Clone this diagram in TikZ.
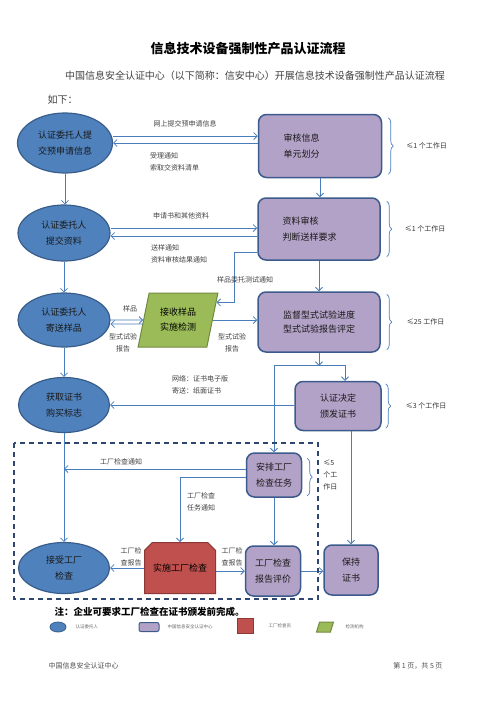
\documentclass[tikz,border=0pt]{standalone}
\usepackage{fontspec}
\setmainfont{Noto Sans CJK SC}
\usetikzlibrary{shapes.geometric, shapes.misc, arrows.meta, positioning, calc, decorations.pathreplacing}

\definecolor{clientblue}{HTML}{4F81BD}
\definecolor{clientedge}{HTML}{385D8A}
\definecolor{centerpurple}{HTML}{B3A2C7}
\definecolor{centeredge}{HTML}{3C5A8C}
\definecolor{labgreen}{HTML}{9BBB59}
\definecolor{labedge}{HTML}{71893F}
\definecolor{inspred}{HTML}{C0504D}
\definecolor{inspedge}{HTML}{8C3836}
\definecolor{flowline}{HTML}{4A7EBB}
\definecolor{framenavy}{HTML}{2E4670}

\begin{document}
\begin{tikzpicture}[x=1pt, y=-1pt,
    client/.style={ellipse, draw=clientedge, line width=1.2pt, fill=clientblue, text=black!90, inner sep=0pt, align=center, font=\fontsize{9}{16}\selectfont},
    certbox/.style={rectangle, rounded corners=8pt, draw=centeredge, line width=1.5pt, fill=centerpurple, text=black!90, inner sep=0pt, align=center, font=\fontsize{9}{16}\selectfont},
    labbox/.style={trapezium, trapezium left angle=74, trapezium right angle=106, trapezium stretches=true, draw=labedge, line width=1pt, fill=labgreen, inner sep=1pt, align=center, font=\fontsize{9}{15}\selectfont},
    inspbox/.style={chamfered rectangle, chamfered rectangle corners={north west, north east}, chamfered rectangle xsep=8pt, draw=inspedge, line width=1pt, fill=inspred, inner sep=0pt, align=center, font=\fontsize{9}{15}\selectfont},
    arrow/.style={-{Straight Barb[length=3.5pt, width=7pt]}, draw=flowline, line width=0.8pt},
    flow/.style={draw=flowline, line width=0.8pt},
    note/.style={font=\fontsize{7}{12}\selectfont, text=black!75, align=center, inner sep=0pt},
    span/.style={decorate, decoration={brace, amplitude=5pt}, draw=flowline, line width=0.7pt},
    days/.style={font=\fontsize{7}{12}\selectfont, text=black!80, anchor=west, align=left, inner sep=0pt},
    dashframe/.style={draw=framenavy, line width=1.4pt, dash pattern=on 5pt off 4pt},
    legtext/.style={font=\fontsize{4.5}{5}\selectfont, text=black!60, inner sep=0pt}
]
\useasboundingbox (0,0) rectangle (496,702);

% Title
\node[font=\bfseries\fontsize{13}{13}\selectfont] (title) at (248,49) {信息技术设备强制性产品认证流程};
\node[font=\fontsize{10}{10}\selectfont, text=black!75] (intro) at (255,76) {中国信息安全认证中心（以下简称：信安中心）开展信息技术设备强制性产品认证流程};
\node[font=\fontsize{10}{10}\selectfont, text=black!75, anchor=west] (intro2) at (44,100) {如下：};

% Nodes
\node[client, minimum width=95pt, minimum height=60pt] (apply) at (65,143) {认证委托人提\\交预申请信息};
\node[certbox, minimum width=123pt, minimum height=63pt, text width=73pt, align=left] (prelim) at (320,146) {审核信息\\单元划分};
\node[client, minimum width=92pt, minimum height=56pt] (submit) at (64,233) {认证委托人\\提交资料};
\node[certbox, minimum width=122pt, minimum height=62pt, text width=73pt, align=left] (docreview) at (319,229) {资料审核\\判断送样要求};
\node[client, minimum width=92pt, minimum height=54pt] (sendsample) at (64,320) {认证委托人\\寄送样品};
\node[labbox, minimum width=80pt, minimum height=54pt] (lab) at (178,320) {接收样品\\实施检测};
\node[certbox, minimum width=122pt, minimum height=60pt, font=\fontsize{9}{14}\selectfont] (monitor) at (319,322) {监督型式试验进度\\型式试验报告评定};
\node[client, minimum width=91pt, minimum height=55pt] (getcert) at (64,405) {获取证书\\购买标志};
\node[certbox, minimum width=86pt, minimum height=49pt] (decide) at (338,406) {认证决定\\颁发证书};
\node[certbox, minimum width=55pt, minimum height=44pt] (arrange) at (274,475) {安排工厂\\检查任务};
\node[client, minimum width=91pt, minimum height=51pt] (accept) at (64,568) {接受工厂\\检查};
\node[inspbox, minimum width=71pt, minimum height=51pt] (inspect) at (180,568) {实施工厂检查};
\node[certbox, minimum width=55pt, minimum height=50pt] (evaluate) at (273,571) {工厂检查\\报告评价};
\node[certbox, minimum width=54pt, minimum height=50pt] (keep) at (351,570) {保持\\证书};

% Arrows
\draw[arrow] ([yshift=7pt]apply.east) -- ([yshift=7pt]prelim.west |- apply.east);
\draw[arrow] (prelim.west |- apply.east) -- (apply.east);
\draw[arrow] (apply.south) -- (apply.south |- submit.north);
\draw[arrow] (prelim.south) -- (prelim.south |- docreview.north);
\draw[arrow] ([yshift=5pt]submit.east) -- ([yshift=5pt]docreview.west |- submit.east);
\draw[arrow] ([yshift=-3pt]docreview.west |- submit.east) -- ([yshift=-3pt]submit.east);
\draw[arrow] (submit.south) -- (submit.south |- sendsample.north);
\draw[arrow] (docreview.south) -- (docreview.south |- monitor.north);
\draw[arrow] ([yshift=-23pt]docreview.west) -- ++(-23,0) |- ($(lab.top right corner)!0.18!(lab.bottom right corner)$);
\draw[arrow] (sendsample.east) -- (lab.west);
\draw[arrow] ([yshift=-4pt]lab.west) -- ([yshift=-4pt]sendsample.east);
\draw[arrow] (lab.east) -- (lab.east -| monitor.west);
\draw[arrow] (sendsample.south) -- (sendsample.south |- getcert.north);
\coordinate (split) at ($(monitor.south)+(0,13)$);
\draw[arrow] (monitor.south) -- (split);
\draw[arrow] (split) -| ([xshift=7pt]decide.north);
\draw[arrow] (split) -| (arrange.north);
\draw[arrow] (decide.west |- getcert.east) -- (getcert.east);
\draw[arrow] (getcert.south) -- (getcert.south |- accept.north);
\draw[arrow] ([yshift=6pt]arrange.west) -- ([yshift=6pt]arrange.west -| getcert.south);
\draw[arrow] ([yshift=-2pt]arrange.west) -| (inspect.north);
\draw[arrow] (arrange.south) -- (arrange.south |- evaluate.north);
\draw[arrow] (keep.north |- decide.south) -- (keep.north);
\draw[arrow] (inspect.west) -- (inspect.west -| accept.east);
\draw[arrow] ([yshift=-3pt]inspect.east) -- ([yshift=-3pt]inspect.east -| evaluate.west);
\draw[arrow] (evaluate.east) -- (evaluate.east -| keep.west);

% Arrow labels
\node[note] (n1) at (185,124) {网上提交预申请信息};
\node[note, align=left, anchor=west] (n2) at (150,162) {受理通知\\索取交资料清单};
\node[note] (n3) at (181,216) {申请书和其他资料};
\node[note, align=left, anchor=west] (n4) at (151,254) {送样通知\\资料审核结果通知};
\node[note] (n5) at (245,280) {样品委托测试通知};
\node[note] (n6) at (130,309) {样品};
\node[note] (n7) at (123,343) {型式试验\\报告};
\node[note] (n8) at (232,343) {型式试验\\报告};
\node[note, align=left, anchor=west] (n9) at (172,385) {网络：证书电子版\\寄送：纸面证书};
\node[note] (n10) at (121,462) {工厂检查通知};
\node[note, align=left, anchor=west] (n11) at (187,502) {工厂检查\\任务通知};
\node[note] (n12) at (131,557) {工厂检\\查报告};
\node[note] (n13) at (232,557) {工厂检\\查报告};

% Time spans
\draw[span] ([shift={(6pt,-4pt)}]prelim.north east) -- ([shift={(6pt,4pt)}]prelim.south east);
\node[days] (t1) at ([xshift=24pt]prelim.east) {≤1 个工作日};
\draw[span] ([shift={(6pt,-4pt)}]docreview.north east) -- ([shift={(6pt,4pt)}]docreview.south east);
\node[days] (t2) at ([xshift=24pt]docreview.east) {≤1 个工作日};
\draw[span] ([shift={(6pt,-3pt)}]monitor.north east) -- ([shift={(6pt,3pt)}]monitor.south east);
\node[days] (t3) at ([xshift=26pt]monitor.east) {≤25 工作日};
\draw[span] ([shift={(4pt,-3pt)}]decide.north east) -- ([shift={(4pt,3pt)}]decide.south east);
\node[days] (t4) at ([xshift=24pt]decide.east) {≤3 个工作日};
\draw[span] ([shift={(5pt,-6pt)}]arrange.north east) -- ([shift={(5pt,2pt)}]arrange.south east);
\node[days] (t5) at ([xshift=21pt]arrange.east) {≤5\\个工\\作日};

% Factory inspection frame
\draw[dashframe] (14,443) rectangle (318,599);
\node[font=\bfseries\fontsize{9.5}{10}\selectfont, anchor=west] (remark) at (51,612) {注：企业可要求工厂检查在证书颁发前完成。};

% Legend
\node[client, minimum width=16pt, minimum height=10pt, line width=0.8pt] (legA) at (58,627) {};
\node[legtext, right=9pt of legA] (legAtext) {认证委托人};
\node[certbox, minimum width=20pt, minimum height=9pt, rounded corners=2pt, line width=1pt] (legB) at (149,627) {};
\node[legtext, right=8pt of legB] (legBtext) {中国信息安全认证中心};
\node[inspbox, minimum width=16pt, minimum height=15pt, chamfered rectangle xsep=3.5pt] (legC) at (245,626) {};
\node[legtext, right=15pt of legC] (legCtext) {工厂检查员};
\node[labbox, minimum width=17pt, minimum height=10pt] (legD) at (325,627) {};
\node[legtext, right=13pt of legD] (legDtext) {检测机构};

% Footer
\node[font=\fontsize{7}{7}\selectfont, text=black!70, anchor=west] (footL) at (45,666) {中国信息安全认证中心};
\node[font=\fontsize{7}{7}\selectfont, text=black!70, anchor=east] (footR) at (446,666) {第 1 页，共 5 页};
\end{tikzpicture}
\end{document}
